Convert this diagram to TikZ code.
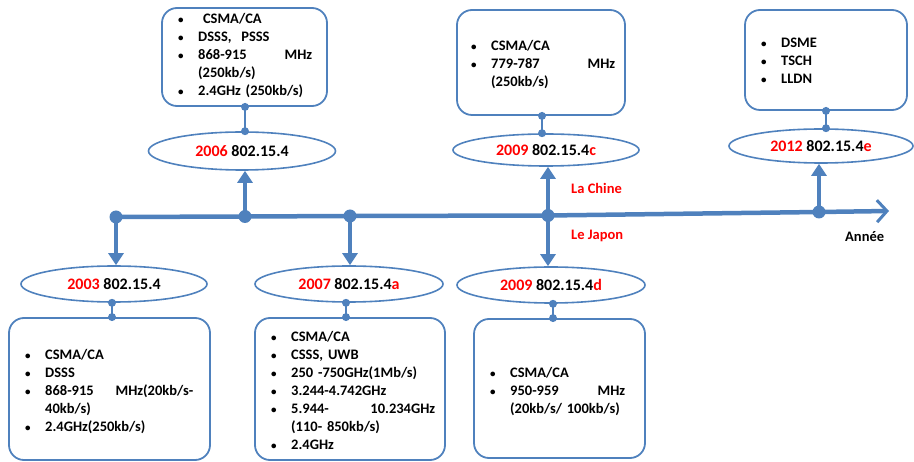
\documentclass[tikz,border=0pt]{standalone}
\usepackage{fontspec}
\setmainfont{Carlito}
\usetikzlibrary{arrows.meta,shapes.geometric}
\definecolor{lineblue}{RGB}{79,129,189}
\definecolor{txtred}{RGB}{255,0,0}
% one bullet item with a hanging indent (each item ends with \par)
\newcommand{\bitem}{\noindent\hangindent=20pt\hangafter=1\makebox[20pt][l]{\raisebox{0.5pt}{\fontsize{11}{11}\selectfont•}}}
\newcommand{\yr}[1]{\textcolor{txtred}{#1}}
\tikzset{
  infobox/.style={draw=lineblue, line width=1.8pt, rounded corners=15pt, inner sep=0pt},
  stdellipse/.style={ellipse, draw=lineblue, line width=1.6pt, inner sep=0pt,
    font=\fontsize{16}{19}\selectfont\bfseries},
  listtext/.style={anchor=base west, inner sep=0pt,
    font=\fontsize{14.5}{18}\selectfont\bfseries},
  conn/.style={draw=lineblue, line width=1.8pt},
  vart/.style={draw=lineblue, line width=4.5pt, -{Triangle[width=15pt,length=12pt]}},
  axisline/.style={draw=lineblue, line width=4.5pt, -{Straight Barb[length=10pt,width=22pt,line width=3pt]}},
  lbl/.style={anchor=west, inner sep=0pt, font=\fontsize{14.5}{18}\selectfont\bfseries}
}
\begin{document}
\begin{tikzpicture}[x=1pt,y=-1pt]
\useasboundingbox (0,0) rectangle (914,462);

% timeline points
\coordinate (a03) at (116,217);
\coordinate (a06) at (245,216.5);
\coordinate (a07) at (350,216);
\coordinate (a09) at (548,215.5);
\coordinate (a12) at (819,212);
\coordinate (aend) at (889,211);

% standard ellipses
\node[stdellipse, minimum width=187pt, minimum height=38pt] (e06) at (242,151) {\yr{2006} 802.15.4};
\node[stdellipse, minimum width=186pt, minimum height=36pt] (e03) at (114,284) {\yr{2003} 802.15.4};
\node[stdellipse, minimum width=188pt, minimum height=36pt] (e07) at (349,284) {\yr{2007} 802.15.4\yr{a}};
\node[stdellipse, minimum width=186pt, minimum height=32pt] (e09c) at (546,150) {\yr{2009} 802.15.4\yr{c}};
\node[stdellipse, minimum width=184pt, minimum height=34pt] (e12) at (821,146) {\yr{2012} 802.15.4\yr{e}};
\node[stdellipse, minimum width=188pt, minimum height=36pt] (e09d) at (551,285) {\yr{2009} 802.15.4\yr{d}};

% feature boxes
\node[infobox, minimum width=165pt, minimum height=98pt] (b06) at (244.5,57) {};
\node[infobox, minimum width=168pt, minimum height=105pt] (b09c) at (541,62.5) {};
\node[infobox, minimum width=162pt, minimum height=100pt] (b12) at (826,60) {};
\node[infobox, minimum width=201pt, minimum height=142pt] (b03) at (109.5,389) {};
\node[infobox, minimum width=190pt, minimum height=142pt] (b07) at (350,389) {};
\node[infobox, minimum width=171pt, minimum height=139pt] (b09d) at (559.5,388.5) {};

% box contents
\node[listtext, text width=134pt] (t06) at (178,24) {%
  \bitem\ CSMA/CA\par
  \bitem DSSS,\ \ PSSS\par
  \bitem 868-915\hfill MHz\newline(250kb/s)\par
  \bitem 2.4GHz (250kb/s)\par};
\node[listtext, text width=144pt] (t09c) at (471,51) {%
  \bitem CSMA/CA\par
  \bitem 779-787\hfill MHz\newline(250kb/s)\par};
\node[listtext, text width=120pt] (t12) at (761,48) {%
  \bitem DSME\par
  \bitem TSCH\par
  \bitem LLDN\par};
\node[listtext, text width=168pt] (t03) at (25,360) {%
  \bitem CSMA/CA\par
  \bitem DSSS\par
  \bitem 868-915\hfill MHz(20kb/s-\newline40kb/s)\par
  \bitem 2.4GHz(250kb/s)\par};
\node[listtext, text width=164pt] (t07) at (271,342) {%
  \bitem CSMA/CA\par
  \bitem CSSS, UWB\par
  \bitem 250 -750GHz(1Mb/s)\par
  \bitem 3.244-4.742GHz\par
  \bitem 5.944-\hfill 10.234GHz\newline(110- 850kb/s)\par
  \bitem 2.4GHz\par};
\node[listtext, text width=135pt] (t09d) at (490,378) {%
  \bitem CSMA/CA\par
  \bitem 950-959\hfill MHz\newline(20kb/s/ 100kb/s)\par};

% box-to-ellipse connectors with end dots
\foreach \bx/\el/\xx in {b06/e06/245, b09c/e09c/542, b12/e12/826} {
  \coordinate (p1) at (\xx,0);
  \draw[conn] (p1 |- \bx.south) -- (p1 |- \el.north);
  \fill[lineblue] (p1 |- \bx.south) circle (4pt);
  \fill[lineblue] (p1 |- \el.north) circle (4pt);
}
\foreach \bx/\el/\xx in {b03/e03/112, b07/e07/346, b09d/e09d/553} {
  \coordinate (p1) at (\xx,0);
  \draw[conn] (p1 |- \bx.north) -- (p1 |- \el.south);
  \fill[lineblue] (p1 |- \bx.north) circle (4pt);
  \fill[lineblue] (p1 |- \el.south) circle (4pt);
}

% time axis
\draw[axisline] (a03) -- (a06) -- (a07) -- (a09) -- (a12) -- (aend);

% branches from the axis
\draw[vart] (a03) -- (a03 |- e03.north);
\draw[vart] (a06) -- (a06 |- e06.south);
\draw[vart] (a07) -- (a07 |- e07.north);
\draw[vart] (a09) -- (a09 |- e09c.south);
\draw[vart] (a09) -- (a09 |- e09d.north);
\draw[vart] (a12) -- (a12 |- e12.south);

\foreach \p in {a03,a06,a07,a09,a12} \fill[lineblue] (\p) circle (6.5pt);

% labels
\node[lbl, text=txtred] (chine) at (571,188) {La Chine};
\node[lbl, text=txtred] (japon) at (571,236) {Le Japon};
\node[lbl] (annee) at (845,237) {Année};
\end{tikzpicture}
\end{document}
